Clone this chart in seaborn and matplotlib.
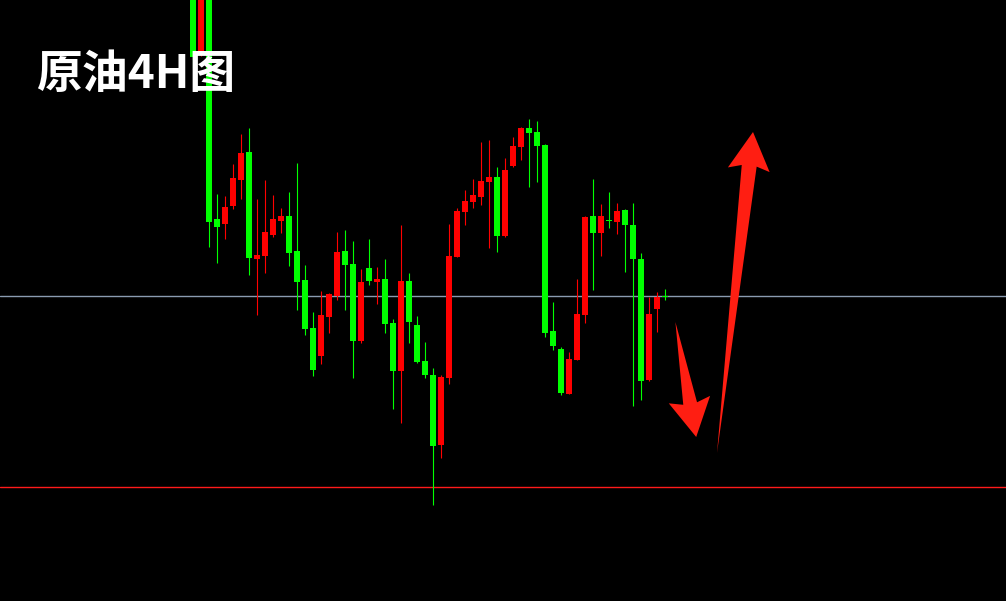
import numpy as np
import pandas as pd
import matplotlib
matplotlib.use("Agg")
import matplotlib.pyplot as plt
import seaborn as sns

# 原油 4小时 K线 (价格读自图片)
opens = [65.60, 64.45, 65.50, 62.81, 62.76, 62.94, 63.20, 63.48, 62.41, 62.44,
         62.65, 62.79, 62.84, 62.49, 62.20, 61.72, 61.44, 61.83, 62.04, 62.49,
         62.36, 61.59, 62.32, 62.18, 62.21, 61.77, 61.29, 62.19, 61.75, 61.39,
         61.25, 60.55, 61.22, 62.43, 62.88, 62.98, 63.03, 63.18, 63.23, 62.64,
         63.34, 63.53, 63.72, 63.68, 63.55, 61.69, 61.51, 61.06, 61.40, 61.85,
         62.84, 62.67, 62.80, 62.78, 62.90, 62.75, 62.41, 61.20, 61.91, 62.04]
highs = [65.80, 65.60, 65.55, 63.06, 63.04, 63.36, 63.66, 63.72, 63.01, 63.20,
         63.05, 62.92, 63.08, 63.37, 62.35, 61.88, 62.09, 62.07, 62.68, 62.70,
         62.59, 62.31, 62.61, 62.33, 62.41, 61.81, 62.75, 62.27, 61.84, 61.58,
         61.32, 61.25, 62.76, 62.92, 63.10, 63.21, 63.58, 63.60, 63.33, 63.42,
         63.63, 63.73, 63.81, 63.79, 63.56, 61.98, 61.53, 61.48, 62.21, 62.84,
         63.21, 62.96, 63.08, 62.97, 62.91, 62.97, 62.47, 62.03, 62.08, 62.11]
lows = [64.32, 64.44, 62.53, 62.37, 62.61, 62.91, 63.01, 62.25, 61.85, 62.27,
        62.63, 62.67, 62.34, 61.90, 61.65, 61.24, 61.36, 61.67, 62.00, 61.90,
        61.22, 61.57, 62.15, 61.96, 61.67, 60.91, 60.77, 61.57, 61.37, 61.22,
        59.95, 60.42, 61.16, 62.43, 62.75, 62.92, 62.95, 62.52, 62.48, 62.63,
        63.33, 63.40, 63.13, 63.18, 61.63, 61.50, 61.05, 61.06, 61.40, 61.77,
        62.10, 62.44, 62.72, 62.66, 62.28, 60.94, 61.00, 61.19, 61.68, 62.00]
closes = [64.43, 65.50, 62.78, 62.73, 62.93, 63.22, 63.47, 62.42, 62.45, 62.68,
          62.81, 62.84, 62.47, 62.18, 61.71, 61.30, 61.85, 62.06, 62.48, 62.35,
          61.59, 62.18, 62.19, 62.21, 61.76, 61.29, 62.19, 61.78, 61.38, 61.25,
          60.54, 61.23, 62.44, 62.89, 62.99, 63.05, 63.19, 63.23, 62.64, 63.30,
          63.54, 63.72, 63.67, 63.54, 61.67, 61.54, 61.07, 61.41, 61.86, 62.83,
          62.67, 62.84, 62.79, 62.89, 62.75, 62.41, 61.19, 61.86, 62.03, 62.03]

# 水平线: 灰色阻力线, 红色支撑线
level_grey = 62.04
level_red = 60.13

# 手绘箭头 (尾, 头) 以 K线序号 和 价格 表示
arrow_down = [(60.3, 61.78), (62.9, 60.63)]
arrow_up = [(65.5, 60.47), (70.0, 63.68)]

title = "原油4H图"

sns.set_theme(style="dark", rc={"axes.facecolor": "black",
                                "figure.facecolor": "black",
                                "savefig.facecolor": "black"})
plt.rcParams['font.family'] = ['Noto Sans CJK SC', 'DejaVu Sans']

df = pd.DataFrame({"open": opens, "high": highs, "low": lows, "close": closes})
df["idx"] = np.arange(len(df))
df["color"] = np.where(df["close"] > df["open"], "#ff0000", "#00ff00")

fig = plt.figure(figsize=(10.06, 6.01), dpi=100)
ax = fig.add_axes([0, 0, 1, 1])
ax.set_xlim(-24.125, 101.625)
ax.set_ylim(58.99, 65.0)
ax.axis("off")

ax.axhline(level_grey, color="#8a9bb0", lw=1.0, zorder=1)
ax.axhline(level_red, color="#ff1a1a", lw=1.0, zorder=1)

# 影线
ax.vlines(df["idx"], df["low"], df["high"], colors=df["color"], lw=0.8, zorder=2)
# 实体
height = df["close"] - df["open"]
height = np.where(np.abs(height) < 0.012, np.sign(height + 1e-9) * 0.012, height)
ax.bar(df["idx"], height, bottom=df["open"], width=0.68, color=df["color"],
       linewidth=0, zorder=3)


def tapered_arrow(ax, tail, tip, shaft_w, head_w, head_len, color):
    # 在像素空间里画一个尾部尖细的箭头
    t = ax.transData
    p0 = np.array(t.transform(tail))
    p1 = np.array(t.transform(tip))
    d = p1 - p0
    L = np.hypot(*d)
    u = d / L
    n = np.array([-u[1], u[0]])
    base = p1 - u * head_len
    pts = [p0,
           base + n * shaft_w / 2,
           base + n * head_w / 2 - u * 4,
           p1,
           base - n * head_w / 2 - u * 4,
           base - n * shaft_w / 2]
    pts = t.inverted().transform(np.array(pts))
    ax.fill(pts[:, 0], pts[:, 1], color=color, lw=0, zorder=5)


tapered_arrow(ax, arrow_down[0], arrow_down[1], 14, 42, 34, "#ff1e12")
tapered_arrow(ax, arrow_up[0], arrow_up[1], 15, 42, 34, "#ff1e12")

fig.text(0.036, 1 - 75 / 601, title, color="white", fontsize=33,
         fontweight="bold", va="center", ha="left", zorder=10)

fig.savefig("out.png", dpi=100, facecolor="black")
